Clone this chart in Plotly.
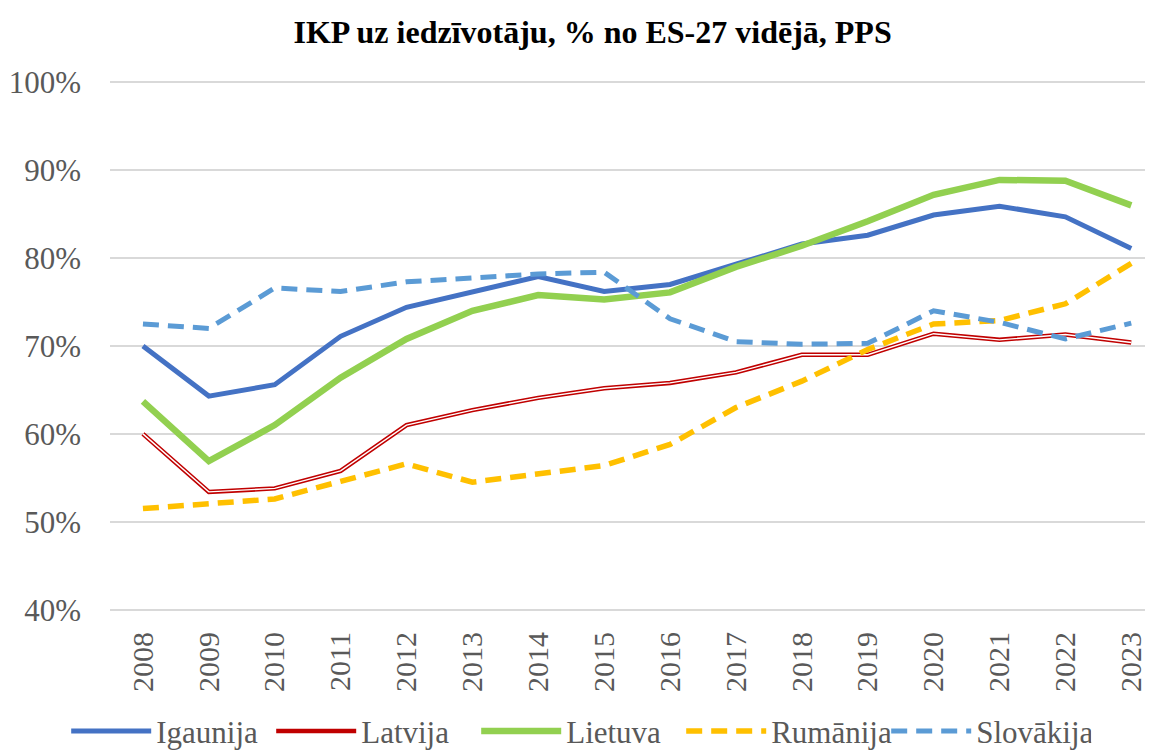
import plotly.graph_objects as go

years = [2008, 2009, 2010, 2011, 2012, 2013, 2014, 2015,
         2016, 2017, 2018, 2019, 2020, 2021, 2022, 2023]

igaunija = [70.0, 64.3, 65.6, 71.1, 74.4, 76.1, 77.9, 76.2,
            77.0, 79.3, 81.6, 82.6, 84.9, 85.9, 84.7, 81.1]
latvija = [60.0, 53.4, 53.8, 55.8, 61.0, 62.7, 64.1, 65.2,
           65.8, 67.0, 69.0, 69.0, 71.4, 70.7, 71.3, 70.4]
lietuva = [63.7, 56.9, 61.0, 66.4, 70.8, 74.0, 75.8, 75.3,
           76.1, 79.0, 81.4, 84.2, 87.2, 88.9, 88.8, 86.0]
rumanija = [51.5, 52.1, 52.6, 54.6, 56.6, 54.5, 55.4, 56.4,
            58.8, 63.0, 66.0, 69.6, 72.5, 72.9, 74.8, 79.4]
slovakija = [72.5, 72.0, 76.6, 76.2, 77.3, 77.7, 78.2, 78.4,
             73.1, 70.5, 70.2, 70.3, 74.0, 72.7, 70.8, 72.6]

y_ticks = [40, 50, 60, 70, 80, 90, 100]
y_tick_labels = [f"{v}%" for v in y_ticks]

title_text = "IKP uz iedzīvotāju, % no ES-27 vidējā, PPS"

FONT = "Times New Roman, Liberation Serif, DejaVu Serif, serif"
GRAY = "#595959"

fig = go.Figure()

fig.add_trace(go.Scatter(x=years, y=igaunija, name="Igaunija", mode="lines",
                         line=dict(color="#4472C4", width=5)))
fig.add_trace(go.Scatter(x=years, y=latvija, name="Latvija", mode="lines",
                         legendgroup="lv",
                         line=dict(color="#C00000", width=4.5)))
fig.add_trace(go.Scatter(x=years, y=latvija, name="Latvija", mode="lines",
                         legendgroup="lv", showlegend=False, hoverinfo="skip",
                         line=dict(color="#FFFFFF", width=1.4)))
fig.add_trace(go.Scatter(x=years, y=lietuva, name="Lietuva", mode="lines",
                         line=dict(color="#92D050", width=6.5)))
fig.add_trace(go.Scatter(x=years, y=rumanija, name="Rumānija", mode="lines",
                         line=dict(color="#FFC000", width=5.5, dash="16px,9px")))
fig.add_trace(go.Scatter(x=years, y=slovakija, name="Slovākija", mode="lines",
                         line=dict(color="#5B9BD5", width=5, dash="16px,9px")))

fig.update_layout(
    width=1153, height=751,
    margin=dict(l=102, r=8, t=73, b=148, autoexpand=False),
    paper_bgcolor="white", plot_bgcolor="white",
    font=dict(family=FONT, color=GRAY, size=31),
    title=dict(text=f"<b>{title_text}</b>", x=0.507, xanchor="center",
               y=1 - 24 / 751, yanchor="middle",
               font=dict(family=FONT, size=32, color="black")),
    xaxis=dict(range=[2007.5, 2023.33], tickvals=years,
               ticktext=[str(y) for y in years], tickangle=-90,
               showgrid=False, zeroline=False, showline=False,
               automargin=False,
               tickfont=dict(family=FONT, size=30, color=GRAY),
               ticks="", ticklabelstandoff=14),
    yaxis=dict(range=[39.85, 100.15], tickvals=y_ticks, ticktext=y_tick_labels,
               showgrid=True, gridcolor="#D9D9D9", gridwidth=1.5,
               zeroline=False, showline=False, ticks="", automargin=False,
               tickfont=dict(family=FONT, size=31, color=GRAY),
               ticklabelstandoff=28),
    legend=dict(orientation="h", x=-0.042, xanchor="left",
                y=-0.176, yanchor="top",
                itemwidth=80, entrywidth=110, entrywidthmode="pixels",
                font=dict(family=FONT, size=31, color=GRAY),
                bgcolor="rgba(0,0,0,0)", traceorder="normal"),
    showlegend=True,
)

fig.write_html("out.html")
